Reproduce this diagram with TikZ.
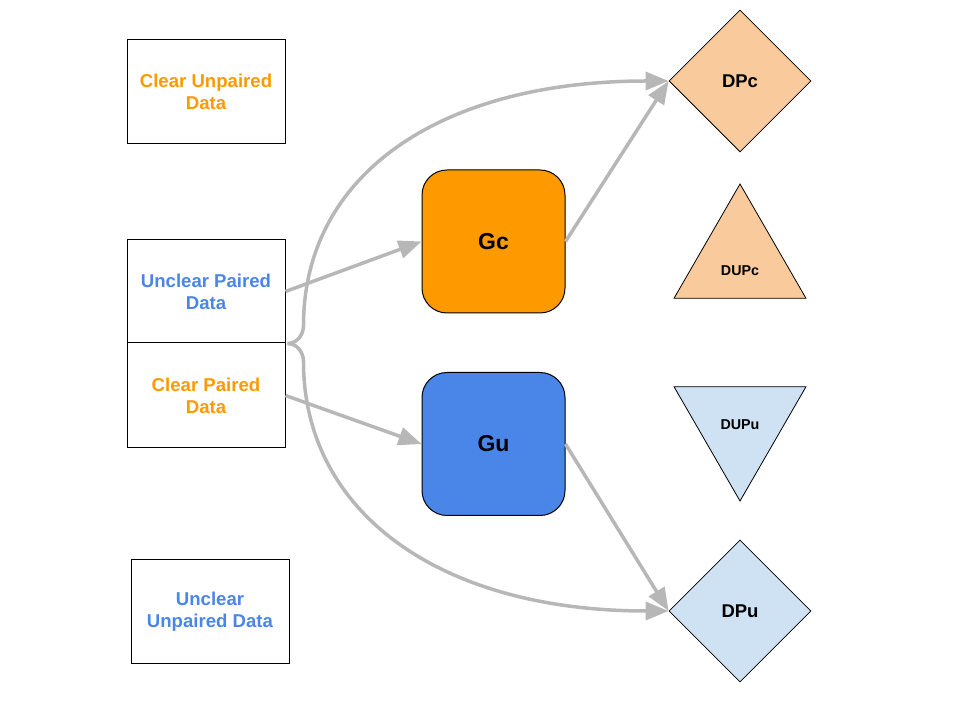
\documentclass[tikz,border=0pt]{standalone}
\usepackage{fontspec}
\setmainfont{Liberation Sans}
\usepackage{tikz}
\usetikzlibrary{arrows.meta, positioning, shapes.geometric}
\usepackage{xcolor}
\definecolor{clearorange}{HTML}{FF9900}
\definecolor{unclearblue}{HTML}{4A86E8}
\definecolor{lightorange}{HTML}{F9CB9C}
\definecolor{lightblue}{HTML}{CFE2F3}
\definecolor{linegray}{HTML}{B7B7B7}
\tikzset{%
	data block/.style={
		draw,
		line width=1pt,
		minimum width=158pt,
		minimum height=104pt,
		align=center,
		font=\bfseries\fontsize{18.6}{22}\selectfont
	},
	generator/.style={
		draw,
		line width=1pt,
		rounded corners=25pt,
		minimum size=143pt,
		font=\bfseries\fontsize{23}{26}\selectfont
	},
	paired disc/.style={
		diamond,
		draw,
		line width=0.8pt,
		minimum size=142pt,
		inner sep=0pt,
		font=\bfseries\fontsize{18.5}{22}\selectfont
	},
	unpaired disc/.style={
		regular polygon,
		regular polygon sides=3,
		draw,
		line width=0.8pt,
		minimum size=152.4pt,
		inner sep=0pt,
		font=\bfseries\fontsize{14.3}{17}\selectfont
	},
	flow/.style={
		draw=linegray,
		line width=3.5pt,
		-{Triangle[length=23pt, width=18pt]}
	},
}

\begin{document}
\begin{tikzpicture}[x=1pt, y=1pt]
	\useasboundingbox (0,0) rectangle (960,720);

	% Draw the data blocks
	\node[data block, text=clearorange] (cu) at (206,628) {Clear Unpaired\\Data};
	\node[data block, text=unclearblue, minimum height=103pt] (up) at (206,428.5) {Unclear Paired\\Data};
	\node[data block, text=clearorange, minimum height=105pt] (cp) at (206,324.5) {Clear Paired\\Data};
	\node[data block, text=unclearblue, minimum height=103pt] (uu) at (210,108.5) {Unclear\\Unpaired Data};

	% Draw the generators
	\node[generator, fill=clearorange] (gc) at (493.5,478.5) {Gc};
	\node[generator, fill=unclearblue] (gu) at (493.5,276) {Gu};

	% Draw the discriminators
	\node[paired disc, fill=lightorange] (dpc) at (740,639) {DPc};
	\node[unpaired disc, fill=lightorange,
		label={[yshift=-10pt, font=\bfseries\fontsize{14.3}{17}\selectfont]center:DUPc}] (dupc) at (740,459.8) {};
	\node[unpaired disc, fill=lightblue, shape border rotate=180] (dupu) at (740,295.2) {DUPu};
	\node[paired disc, fill=lightblue] (dpu) at (740,109) {DPu};

	% Draw the arrows
	\draw[flow] (up.east) -- (gc.west);
	\draw[flow] (cp.east) -- (gu.west);
	\draw[flow] (gc.east) -- (dpc.west);
	\draw[flow] (gu.east) -- (dpu.west);

	% Draw the curved arrows from the paired data
	\coordinate (junc) at ([xshift=2pt]up.south east);
	\draw[flow] (junc) to[out=0, in=-90] ++(16,18) .. controls +(0,150) and +(-230,0) .. (dpc.west);
	\draw[flow] (junc) to[out=0, in=90] ++(16,-18) .. controls +(0,-150) and +(-230,0) .. (dpu.west);
\end{tikzpicture}
\end{document}
